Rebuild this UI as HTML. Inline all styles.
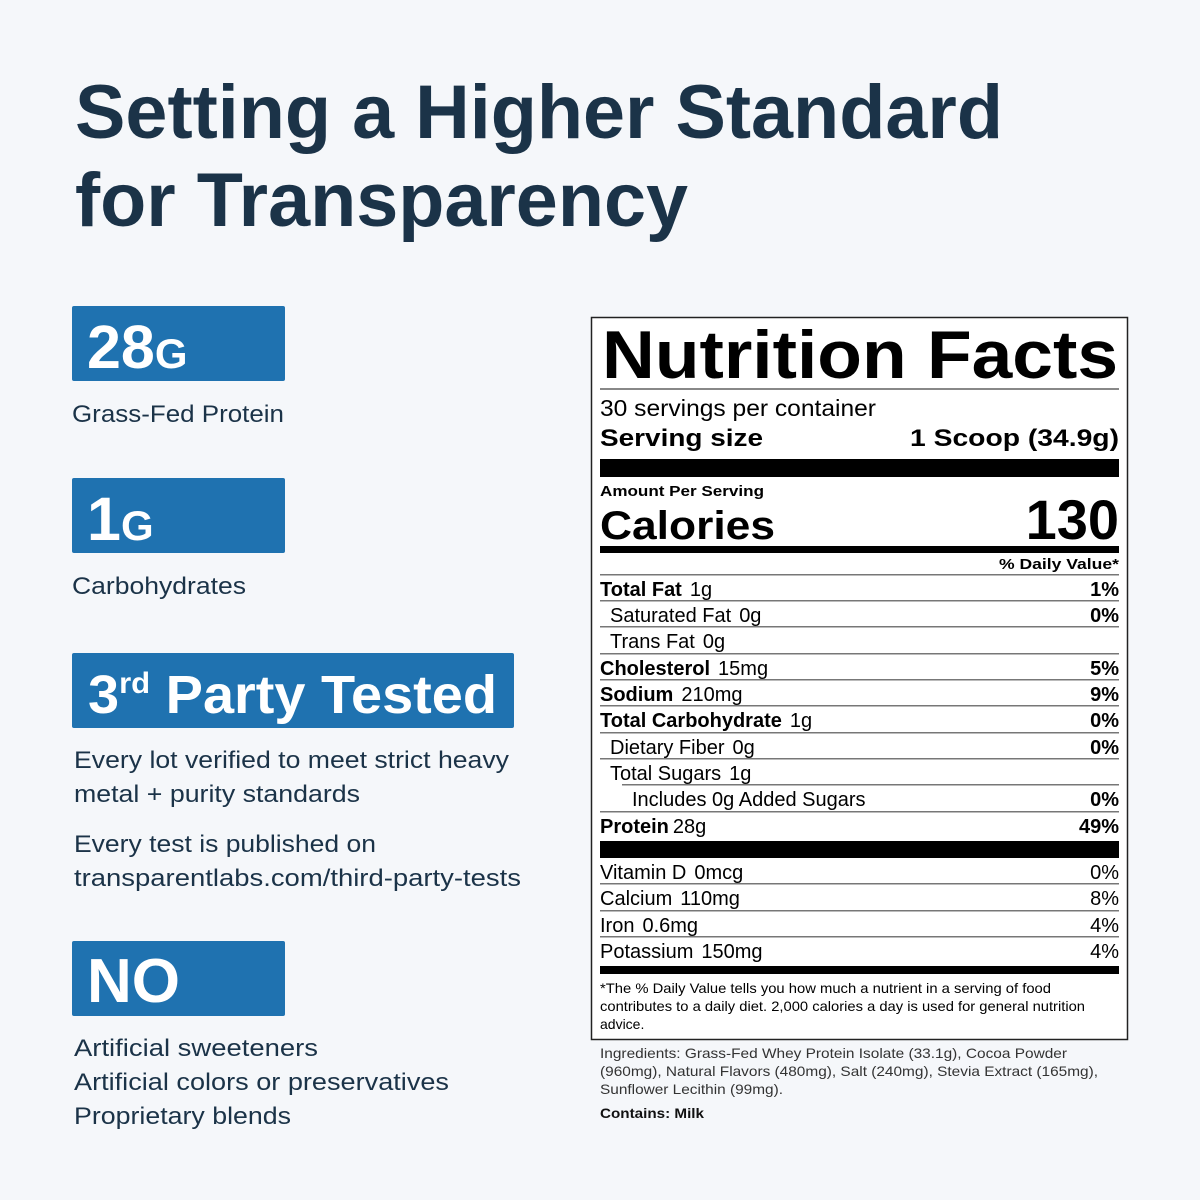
<!DOCTYPE html>
<html><head><meta charset="utf-8"><style>
html,body{margin:0;padding:0;background:#f5f7fa;}
svg{display:block;font-family:"Liberation Sans",sans-serif;}
</style></head><body>
<svg width="1200" height="1200" viewBox="0 0 1200 1200" xmlns="http://www.w3.org/2000/svg">
<rect width="1200" height="1200" fill="#f5f7fa"/>
<g fill="#1b3348" font-weight="bold">
<text x="75" y="138" font-size="76" textLength="928" lengthAdjust="spacingAndGlyphs">Setting a Higher Standard</text>
<text x="75" y="226" font-size="76" textLength="613" lengthAdjust="spacingAndGlyphs">for Transparency</text>
</g>
<g fill="#1f72b0">
<rect x="72" y="306" width="213" height="75" rx="2"/>
<rect x="72" y="478" width="213" height="75" rx="2"/>
<rect x="72" y="653" width="442" height="75" rx="2"/>
<rect x="72" y="941" width="213" height="75" rx="2"/>
</g>
<g fill="#fff" font-weight="bold">
<text x="87" y="368" font-size="61">28<tspan font-size="42">G</tspan></text>
<text x="87" y="540" font-size="61">1<tspan font-size="42">G</tspan></text>
<text x="88" y="713" font-size="54" textLength="409" lengthAdjust="spacingAndGlyphs">3<tspan font-size="30" dy="-20">rd</tspan><tspan dy="20"> Party Tested</tspan></text>
<text x="87" y="1002" font-size="62">NO</text>
</g>
<g fill="#1b3348" font-size="24">
<text x="72" y="422" textLength="212" lengthAdjust="spacingAndGlyphs">Grass-Fed Protein</text>
<text x="72" y="594" textLength="174" lengthAdjust="spacingAndGlyphs">Carbohydrates</text>
<text x="74" y="768" textLength="435" lengthAdjust="spacingAndGlyphs">Every lot verified to meet strict heavy</text>
<text x="74" y="802" textLength="286" lengthAdjust="spacingAndGlyphs">metal + purity standards</text>
<text x="74" y="852" textLength="302" lengthAdjust="spacingAndGlyphs">Every test is published on</text>
<text x="74" y="886" textLength="447" lengthAdjust="spacingAndGlyphs">transparentlabs.com/third-party-tests</text>
<text x="74" y="1056" textLength="244" lengthAdjust="spacingAndGlyphs">Artificial sweeteners</text>
<text x="74" y="1090" textLength="375" lengthAdjust="spacingAndGlyphs">Artificial colors or preservatives</text>
<text x="74" y="1124" textLength="217" lengthAdjust="spacingAndGlyphs">Proprietary blends</text>
</g>
<rect x="591.5" y="317.5" width="536" height="722" fill="#fff" stroke="#222" stroke-width="1.5"/>
<g fill="#000">
<text x="602" y="378" font-size="68" font-weight="bold" textLength="516" lengthAdjust="spacingAndGlyphs">Nutrition Facts</text>
<rect x="600" y="388" width="519" height="2" fill="#888"/>
<text x="600" y="416" font-size="23" textLength="276" lengthAdjust="spacingAndGlyphs">30 servings per container</text>
<text x="600" y="446" font-size="24" font-weight="bold" textLength="163" lengthAdjust="spacingAndGlyphs">Serving size</text>
<text x="1119" y="446" font-size="24" font-weight="bold" text-anchor="end" textLength="209" lengthAdjust="spacingAndGlyphs">1 Scoop (34.9g)</text>
<rect x="600" y="459" width="519" height="18"/>
<text x="600" y="496" font-size="15" font-weight="bold" textLength="164" lengthAdjust="spacingAndGlyphs">Amount Per Serving</text>
<text x="600" y="539" font-size="40" font-weight="bold" textLength="175" lengthAdjust="spacingAndGlyphs">Calories</text>
<text x="1119" y="539" font-size="56" font-weight="bold" text-anchor="end">130</text>
<rect x="600" y="546" width="519" height="7"/>
<text x="1119" y="569" font-size="15" font-weight="bold" text-anchor="end" textLength="120" lengthAdjust="spacingAndGlyphs">% Daily Value*</text>
<g fill="#777">
<rect x="600" y="574" width="519" height="1.5"/>
<rect x="600" y="600" width="519" height="1.5"/>
<rect x="600" y="626" width="519" height="1.5"/>
<rect x="600" y="653" width="519" height="1.5"/>
<rect x="600" y="679" width="519" height="1.5"/>
<rect x="600" y="705" width="519" height="1.5"/>
<rect x="600" y="732" width="519" height="1.5"/>
<rect x="600" y="758" width="519" height="1.5"/>
<rect x="622" y="784" width="497" height="1.5"/>
<rect x="600" y="811" width="519" height="1.5"/>
<rect x="600" y="883" width="519" height="1.5"/>
<rect x="600" y="910" width="519" height="1.5"/>
<rect x="600" y="936" width="519" height="1.5"/>
</g>
<g font-size="20">
<text x="600" y="596"><tspan font-weight="bold">Total Fat</tspan><tspan dx="8">1g</tspan></text>
<text x="610" y="622">Saturated Fat<tspan dx="8">0g</tspan></text>
<text x="610" y="648">Trans Fat<tspan dx="8">0g</tspan></text>
<text x="600" y="675"><tspan font-weight="bold">Cholesterol</tspan><tspan dx="8">15mg</tspan></text>
<text x="600" y="701"><tspan font-weight="bold">Sodium</tspan><tspan dx="8">210mg</tspan></text>
<text x="600" y="727"><tspan font-weight="bold">Total Carbohydrate</tspan><tspan dx="8">1g</tspan></text>
<text x="610" y="754">Dietary Fiber<tspan dx="8">0g</tspan></text>
<text x="610" y="780">Total Sugars<tspan dx="8">1g</tspan></text>
<text x="632" y="806">Includes 0g Added Sugars</text>
<text x="600" y="833"><tspan font-weight="bold">Protein</tspan><tspan dx="4">28g</tspan></text>
</g>
<g font-size="20" font-weight="bold" text-anchor="end">
<text x="1119" y="596">1%</text>
<text x="1119" y="622">0%</text>
<text x="1119" y="675">5%</text>
<text x="1119" y="701">9%</text>
<text x="1119" y="727">0%</text>
<text x="1119" y="754">0%</text>
<text x="1119" y="806">0%</text>
<text x="1119" y="833">49%</text>
</g>
<rect x="600" y="841" width="519" height="17"/>
<g font-size="20">
<text x="600" y="879">Vitamin D<tspan dx="8">0mcg</tspan></text>
<text x="600" y="905">Calcium<tspan dx="8">110mg</tspan></text>
<text x="600" y="932">Iron<tspan dx="8">0.6mg</tspan></text>
<text x="600" y="958">Potassium<tspan dx="8">150mg</tspan></text>
</g>
<g font-size="20" text-anchor="end">
<text x="1119" y="879">0%</text>
<text x="1119" y="905">8%</text>
<text x="1119" y="932">4%</text>
<text x="1119" y="958">4%</text>
</g>
<rect x="600" y="966" width="519" height="8"/>
<g font-size="14">
<text x="600" y="993" textLength="451" lengthAdjust="spacingAndGlyphs">*The % Daily Value tells you how much a nutrient in a serving of food</text>
<text x="600" y="1011" textLength="485" lengthAdjust="spacingAndGlyphs">contributes to a daily diet. 2,000 calories a day is used for general nutrition</text>
<text x="600" y="1029">advice.</text>
</g>
</g>
<g font-size="14" fill="#333">
<text x="600" y="1058" textLength="467" lengthAdjust="spacingAndGlyphs">Ingredients: Grass-Fed Whey Protein Isolate (33.1g), Cocoa Powder</text>
<text x="600" y="1076" textLength="498" lengthAdjust="spacingAndGlyphs">(960mg), Natural Flavors (480mg), Salt (240mg), Stevia Extract (165mg),</text>
<text x="600" y="1094" textLength="183" lengthAdjust="spacingAndGlyphs">Sunflower Lecithin (99mg).</text>
<text x="600" y="1118" font-weight="bold" fill="#111" textLength="104" lengthAdjust="spacingAndGlyphs">Contains: Milk</text>
</g>
</svg>
</body></html>
